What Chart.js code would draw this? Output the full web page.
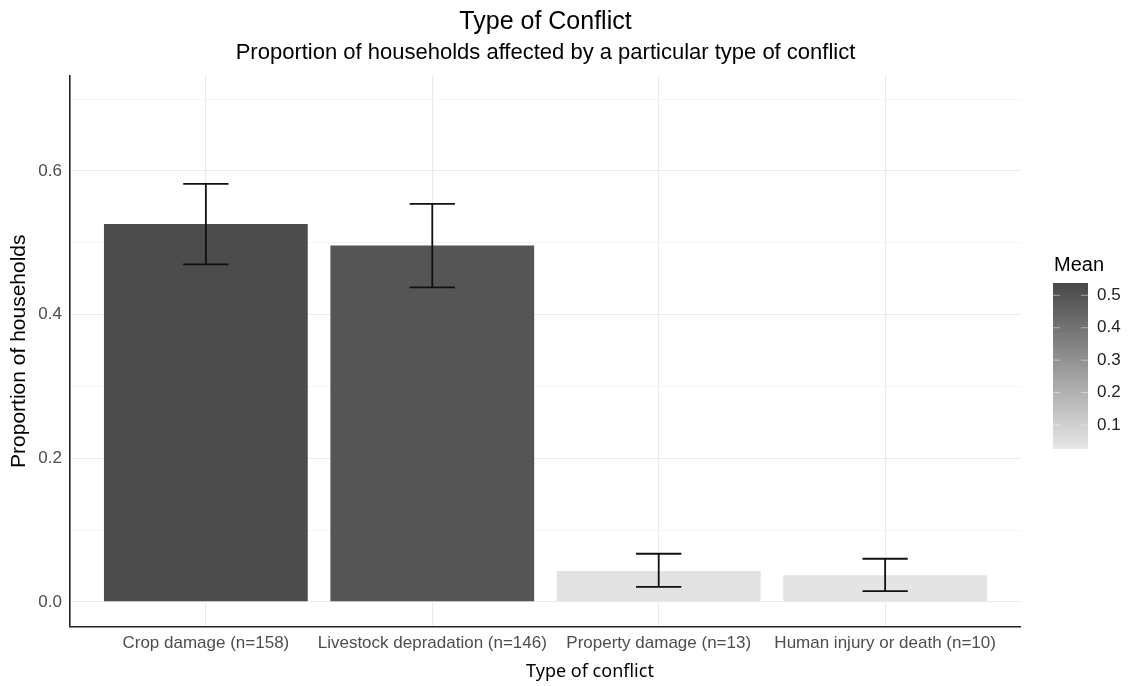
<!DOCTYPE html>
<html>
<head>
<meta charset="utf-8">
<title>Type of Conflict</title>
<script src="https://cdn.jsdelivr.net/npm/chart.js@4.4.1/dist/chart.umd.min.js"></script>
<style>
    html, body { margin: 0; padding: 0; background: #fff; }
    canvas { display: block; }
</style>
</head>
<body>
<canvas id="chart" width="1133" height="686"></canvas>
<script>
// values
var categories = [
    'Crop damage (n=158)',
    'Livestock depradation (n=146)',
    'Property damage (n=13)',
    'Human injury or death (n=10)'
];
var means = [0.526, 0.496, 0.043, 0.037];
var lowerCI = [0.470, 0.438, 0.021, 0.015];
var upperCI = [0.582, 0.554, 0.067, 0.060];

var yTicks = [0, 0.1, 0.2, 0.3, 0.4, 0.5, 0.6, 0.7];
var yLabelled = [0, 0.2, 0.4, 0.6];
var legendTicks = [0.1, 0.2, 0.3, 0.4, 0.5];
// extent of the colour bar in the legend
var legendRange = [0.026, 0.538];

(function () {
    'use strict';

    var FONT = '"Liberation Sans", Arial, sans-serif';
    var DARK = [72, 72, 72];
    var LIGHT = [231, 231, 231];

    function shade(v) {
        var t = (v - legendRange[0]) / (legendRange[1] - legendRange[0]);
        t = Math.max(0, Math.min(1, t));
        var c = [];
        for (var k = 0; k < 3; k++) {
            c.push(Math.round(LIGHT[k] + (DARK[k] - LIGHT[k]) * t));
        }
        return 'rgb(' + c.join(',') + ')';
    }

    function isLabelled(v) {
        for (var i = 0; i < yLabelled.length; i++) {
            if (Math.abs(yLabelled[i] - v) < 1e-9) {
                return true;
            }
        }
        return false;
    }

    var errorBars = {
        id: 'errorBars',
        afterDatasetsDraw: function (chart) {
            var xs = chart.scales.x;
            var ys = chart.scales.y;
            var ctx = chart.ctx;
            ctx.save();
            ctx.strokeStyle = '#111';
            ctx.lineWidth = 1.8;
            for (var i = 0; i < means.length; i++) {
                var x = xs.getPixelForValue(i + 1);
                var x0 = xs.getPixelForValue(i + 0.9);
                var x1 = xs.getPixelForValue(i + 1.1);
                var yLo = ys.getPixelForValue(lowerCI[i]);
                var yHi = ys.getPixelForValue(upperCI[i]);
                ctx.beginPath();
                ctx.moveTo(x, yLo);
                ctx.lineTo(x, yHi);
                ctx.moveTo(x0, yHi);
                ctx.lineTo(x1, yHi);
                ctx.moveTo(x0, yLo);
                ctx.lineTo(x1, yLo);
                ctx.stroke();
            }
            ctx.restore();
        }
    };

    // colour bar legend + x axis title (sits right of centre in the original)
    var extras = {
        id: 'extras',
        afterDraw: function (chart) {
            var ctx = chart.ctx;
            var left = 1053, right = 1088, top = 283, bottom = 449;
            ctx.save();

            ctx.fillStyle = '#000';
            ctx.font = '18px "Noto Sans", sans-serif';
            ctx.textAlign = 'center';
            ctx.textBaseline = 'middle';
            ctx.fillText('Type of conflict', 590, 672);

            ctx.font = '20px ' + FONT;
            ctx.textAlign = 'left';
            ctx.fillText('Mean', 1054, 265);

            var grad = ctx.createLinearGradient(0, top, 0, bottom);
            grad.addColorStop(0, shade(legendRange[1]));
            grad.addColorStop(1, shade(legendRange[0]));
            ctx.fillStyle = grad;
            ctx.fillRect(left, top, right - left, bottom - top);

            ctx.font = '17px ' + FONT;
            ctx.fillStyle = '#222';
            ctx.strokeStyle = 'rgba(255,255,255,0.45)';
            ctx.lineWidth = 1;
            for (var i = 0; i < legendTicks.length; i++) {
                var v = legendTicks[i];
                var y = bottom - (v - legendRange[0]) / (legendRange[1] - legendRange[0]) * (bottom - top);
                ctx.beginPath();
                ctx.moveTo(left, y);
                ctx.lineTo(left + 7, y);
                ctx.moveTo(right - 7, y);
                ctx.lineTo(right, y);
                ctx.stroke();
                ctx.fillText(v.toFixed(1), 1097, y);
            }
            ctx.restore();
        }
    };

    var points = [];
    var colours = [];
    for (var i = 0; i < means.length; i++) {
        points.push({ x: i + 1, y: means[i] });
        colours.push(shade(means[i]));
    }

    new Chart(document.getElementById('chart'), {
        type: 'bar',
        data: {
            datasets: [{
                label: 'Mean',
                data: points,
                backgroundColor: colours,
                borderWidth: 0,
                barPercentage: 0.9,
                categoryPercentage: 1
            }]
        },
        plugins: [errorBars, extras],
        options: {
            responsive: false,
            animation: false,
            layout: { padding: { left: 0, right: 112, top: 0, bottom: 0 } },
            plugins: {
                legend: { display: false },
                tooltip: { enabled: false },
                title: {
                    display: true,
                    text: 'Type of Conflict',
                    fullSize: false,
                    color: '#000',
                    font: { family: FONT, size: 25, weight: 'normal' },
                    padding: { top: 7, bottom: 3 }
                },
                subtitle: {
                    display: true,
                    text: 'Proportion of households affected by a particular type of conflict',
                    fullSize: false,
                    color: '#000',
                    font: { family: FONT, size: 22, weight: 'normal' },
                    padding: { top: 0, bottom: 9 }
                }
            },
            scales: {
                x: {
                    type: 'linear',
                    min: 0.4,
                    max: 4.6,
                    offset: false,
                    afterBuildTicks: function (scale) {
                        scale.ticks = categories.map(function (c, i) {
                            return { value: i + 1 };
                        });
                    },
                    afterFit: function (scale) {
                        scale.height = 59;
                    },
                    ticks: {
                        color: '#4d4d4d',
                        font: { family: FONT, size: 17 },
                        maxRotation: 0,
                        autoSkip: false,
                        padding: 6,
                        callback: function (v) {
                            return categories[Math.round(v) - 1] || '';
                        }
                    },
                    grid: {
                        offset: false,
                        color: '#ebebeb',
                        lineWidth: 1.1,
                        drawTicks: false
                    },
                    border: { color: '#222', width: 1.6 },
                    title: { display: false }
                },
                y: {
                    min: -0.035,
                    max: 0.733,
                    afterBuildTicks: function (scale) {
                        scale.ticks = yTicks.map(function (v) {
                            return { value: v };
                        });
                    },
                    afterFit: function (scale) {
                        scale.width = 70;
                    },
                    ticks: {
                        color: '#4d4d4d',
                        font: { family: FONT, size: 17 },
                        padding: 8,
                        callback: function (v) {
                            return isLabelled(v) ? v.toFixed(1) : '';
                        }
                    },
                    grid: {
                        drawTicks: false,
                        color: function (c) {
                            return isLabelled(c.tick.value) ? '#ebebeb' : '#f3f3f3';
                        },
                        lineWidth: function (c) {
                            return isLabelled(c.tick.value) ? 1.1 : 0.8;
                        }
                    },
                    border: { color: '#222', width: 1.6 },
                    title: {
                        display: true,
                        text: 'Proportion of households',
                        color: '#000',
                        font: { family: FONT, size: 21 },
                        padding: { top: 7, bottom: 0 }
                    }
                }
            }
        }
    });
})();
</script>
</body>
</html>
